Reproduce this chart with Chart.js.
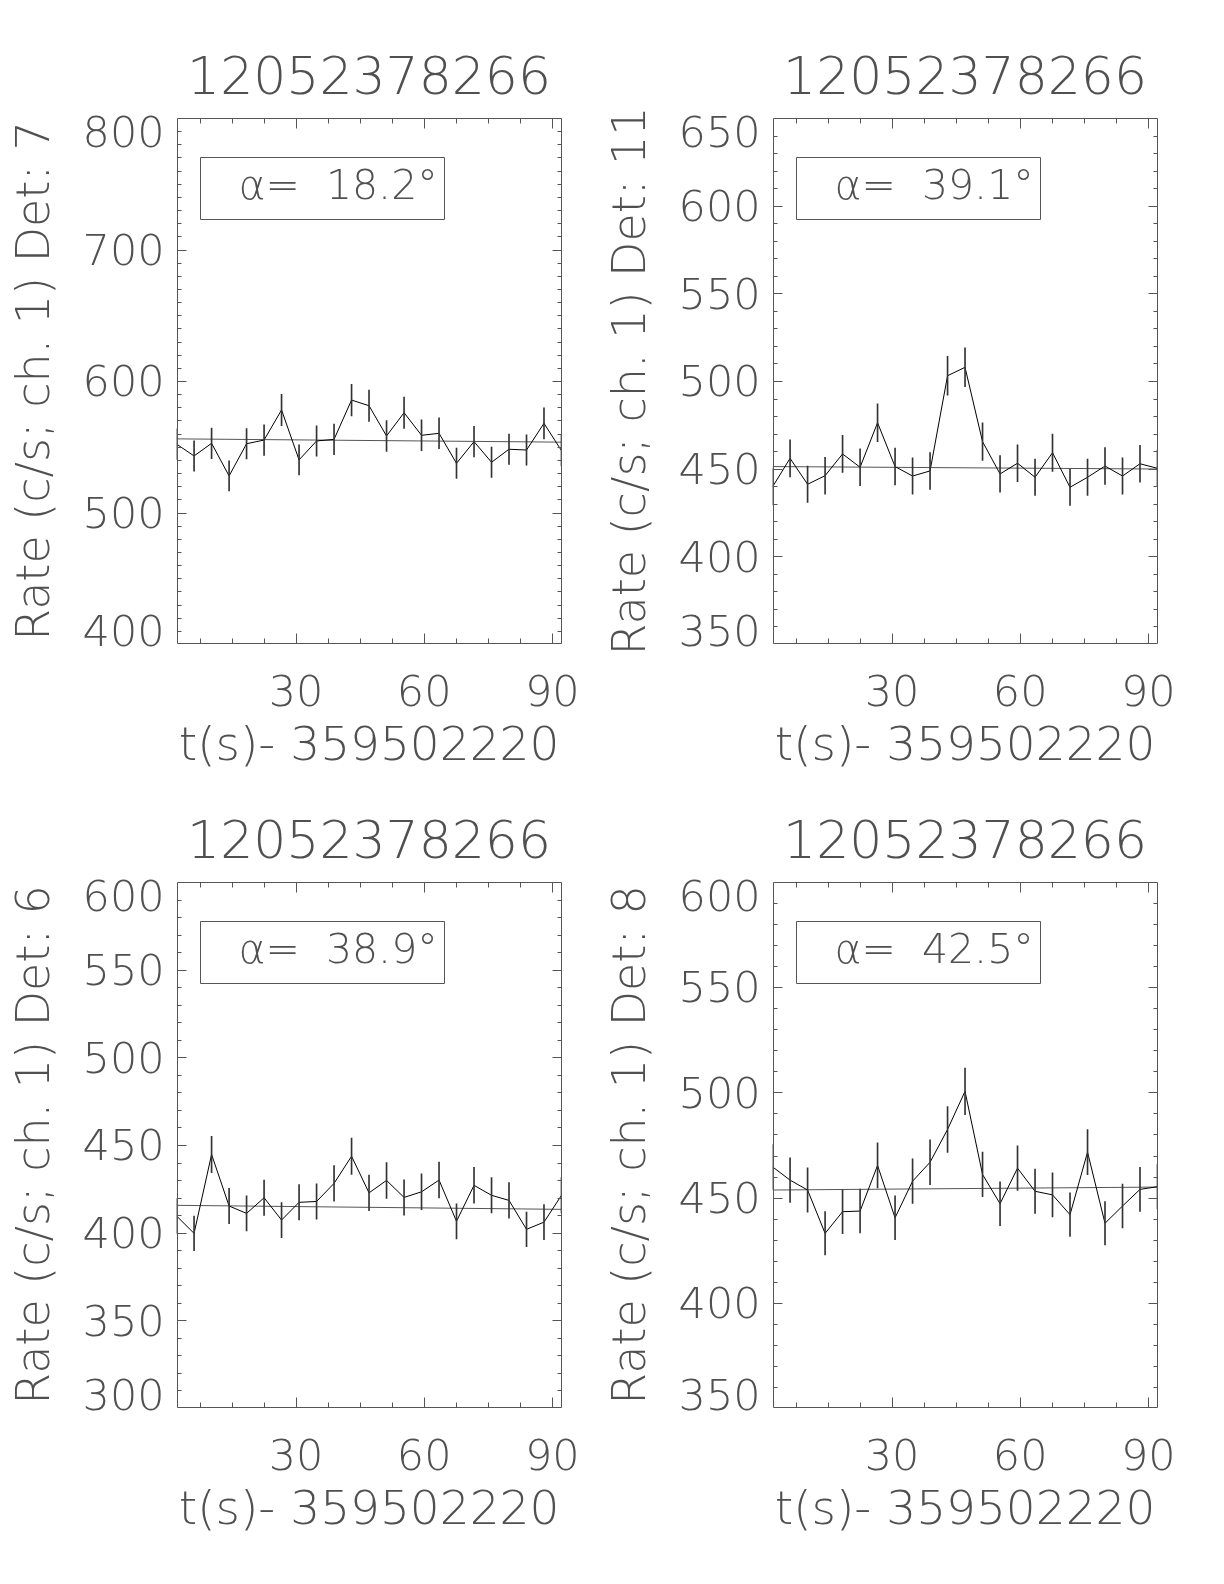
<!DOCTYPE html>
<html>
<head>
<meta charset="utf-8">
<script src="https://cdn.jsdelivr.net/npm/chart.js@4.4.1/dist/chart.umd.min.js"></script>
<style>
  body { margin: 0; background: #fff; }
  canvas { position: absolute; }
</style>
</head>
<body>
<canvas id="p7" width="596" height="792" style="left:0;top:0"></canvas>
<canvas id="p11" width="596" height="792" style="left:596px;top:0"></canvas>
<canvas id="p6" width="596" height="792" style="left:0;top:764px"></canvas>
<canvas id="p8" width="596" height="792" style="left:596px;top:764px"></canvas>
<script>
const FONT = "'DejaVu Sans', sans-serif";
const INK = '#505050';

// bin centres, s after 359502220
const times = [2.05, 6.14, 10.24, 14.34, 18.43, 22.53, 26.62, 30.72, 34.82, 38.91, 43.01, 47.10,
  51.20, 55.30, 59.39, 63.49, 67.58, 71.68, 75.78, 79.87, 83.97, 88.06, 92.16];

// Det 7
const rate7 = [552, 543, 552.6, 527.8, 552.3, 555.1, 578, 540, 554.4, 555.6, 585.5, 581.2,
  558.2, 575.9, 558.7, 560.2, 537.4, 553.9, 538.2, 548.1, 547.5, 567.8, 547];
const err7 = [11.6, 11.5, 11.6, 11.4, 11.6, 11.6, 11.9, 11.5, 11.6, 11.6, 12.0, 11.9,
  11.7, 11.9, 11.7, 11.7, 11.5, 11.6, 11.5, 11.6, 11.6, 11.8, 11.6];
const fit7 = [556, 553.5];

// Det 11
const rate11 = [439.7, 455.9, 441.1, 446, 458.4, 450.8, 476.2, 451.2, 445.8, 448.7, 503, 507.8,
  465.4, 447, 453.1, 445.1, 459.1, 439.4, 445.1, 451.5, 445.8, 452.8, 450.2];
const err11 = [10.4, 10.6, 10.4, 10.5, 10.6, 10.5, 10.8, 10.5, 10.4, 10.5, 11.1, 11.1,
  10.7, 10.4, 10.5, 10.4, 10.6, 10.4, 10.4, 10.5, 10.4, 10.5, 10.5];
const fit11 = [451.2, 449.8];

// Det 6
const rate6 = [409.5, 399.6, 444.6, 415.2, 411, 419.9, 407.2, 417.3, 417.8, 428.1, 443.6, 422.7,
  429.8, 420.1, 423.3, 430, 406.5, 427, 421.3, 418.4, 401.9, 406, 421.3];
const err6 = [10.0, 9.9, 10.4, 10.1, 10.0, 10.1, 10.0, 10.1, 10.1, 10.2, 10.4, 10.2,
  10.2, 10.1, 10.2, 10.2, 10.0, 10.2, 10.1, 10.1, 9.9, 10.0, 10.1];
const fit6 = [415.6, 413.3];

// Det 8
const rate8 = [464.6, 458.3, 453.6, 433, 443.3, 443.6, 465.3, 440.4, 457.8, 466.8, 482.4, 500.5,
  461, 447.1, 464, 453, 451.3, 441.9, 471.6, 437.8, 446, 453.9, 455.2];
const err8 = [10.6, 10.6, 10.5, 10.3, 10.4, 10.4, 10.7, 10.4, 10.6, 10.7, 10.9, 11.1,
  10.6, 10.4, 10.6, 10.5, 10.5, 10.4, 10.7, 10.3, 10.4, 10.5, 10.5];
const fit8 = [453.6, 455];

const xTicks = [30, 60, 90];

// IDL style frame: box, inward ticks on all sides, angle label
const idlAxes = {
  id: 'idlAxes',
  afterDraw(chart, args, opts) {
    const { ctx, chartArea: a } = chart;
    const x = chart.scales.x, y = chart.scales.y;
    const L = Math.round(a.left) + 0.5, R = Math.round(a.right) - 0.5;
    const T = Math.round(a.top) + 0.5, B = Math.round(a.bottom) - 0.5;
    ctx.save();
    ctx.strokeStyle = '#555';
    ctx.lineWidth = 1;
    ctx.beginPath();
    ctx.rect(L, T, R - L, B - T);
    for (let k = 1; k * 7.5 <= x.max; k++) {
      const px = Math.round(x.getPixelForValue(k * 7.5)) + 0.5;
      const len = k % 4 === 0 ? 10 : 5;
      ctx.moveTo(px, B); ctx.lineTo(px, B - len);
      ctx.moveTo(px, T); ctx.lineTo(px, T + len);
    }
    for (let v = y.min + 10; v < y.max; v += 10) {
      const py = Math.round(y.getPixelForValue(v)) + 0.5;
      const len = Math.abs(v % opts.step) < 1e-6 ? 9 : 4;
      ctx.moveTo(L, py); ctx.lineTo(L + len, py);
      ctx.moveTo(R, py); ctx.lineTo(R - len, py);
    }
    ctx.stroke();

    ctx.beginPath();
    ctx.rect(L + 23, T + 39, 244, 62);
    ctx.stroke();
    ctx.fillStyle = INK;
    ctx.font = '200 41px ' + FONT;
    ctx.textBaseline = 'middle';
    ctx.textAlign = 'left';
    ctx.fillText('\u03b1=  ' + opts.alpha + '\u00b0', L + 61, T + 70);
    ctx.restore();
  }
};

function makePanel(id, rates, errs, fit, yMin, yMax, yStep, det, alpha) {
  const last = times.length - 1;
  return new Chart(document.getElementById(id), {
    type: 'line',
    data: {
      datasets: [
        {
          type: 'bar',
          data: times.map((t, i) => ({ x: t, y: [rates[i] - errs[i], rates[i] + errs[i]] })),
          backgroundColor: '#333',
          borderWidth: 0,
          barThickness: 1
        },
        {
          data: times.map((t, i) => ({ x: t, y: rates[i] })),
          borderColor: '#000',
          borderWidth: 1,
          pointRadius: 0,
          tension: 0
        },
        {
          data: [{ x: times[0], y: fit[0] }, { x: times[last], y: fit[1] }],
          borderColor: '#555',
          borderWidth: 1,
          pointRadius: 0
        }
      ]
    },
    options: {
      responsive: false,
      animation: false,
      events: [],
      layout: { padding: { top: 30, right: 34.5, bottom: 16, left: 0 } },
      plugins: {
        legend: { display: false },
        tooltip: { enabled: false },
        title: {
          display: true,
          text: '12052378266',
          fullSize: false,
          color: INK,
          font: { family: FONT, size: 52, weight: 200 },
          padding: { top: 19, bottom: 6.6 }
        },
        idlAxes: { step: yStep, alpha: alpha }
      },
      scales: {
        x: {
          type: 'linear',
          min: times[0],
          max: times[last],
          offset: false,
          grid: { display: false },
          border: { display: false },
          afterBuildTicks: s => { s.ticks = xTicks.map(v => ({ value: v })); },
          ticks: {
            padding: 17,
            maxRotation: 0,
            autoSkip: false,
            color: INK,
            font: { family: FONT, size: 43, weight: 200 }
          },
          title: {
            display: true,
            text: 't(s)- 359502220',
            color: INK,
            font: { family: FONT, size: 47, weight: 200 },
            padding: { top: 0, bottom: 0 }
          },
          afterFit: s => { s.height = 132; s.paddingLeft = 0; s.paddingRight = 0; }
        },
        y: {
          min: yMin,
          max: yMax,
          grid: { display: false },
          border: { display: false },
          ticks: {
            stepSize: yStep,
            padding: 4,
            labelOffset: 4,
            color: INK,
            font: { family: FONT, size: 43, weight: 200, lineHeight: 0.63 },
            callback: v => v === yMax ? ['', String(v)] : v === yMin ? [String(v), ''] : String(v)
          },
          title: {
            display: true,
            text: 'Rate (c/s; ch. 1) Det: ' + det,
            color: INK,
            font: { family: FONT, size: 46, weight: 200 },
            padding: { top: 9, bottom: 0 }
          },
          afterFit: s => { s.width = 176.6; s.paddingTop = 0; s.paddingBottom = 0; }
        }
      }
    },
    plugins: [idlAxes]
  });
}

makePanel('p7', rate7, err7, fit7, 400, 800, 100, 7, '18.2');
makePanel('p11', rate11, err11, fit11, 350, 650, 50, 11, '39.1');
makePanel('p6', rate6, err6, fit6, 300, 600, 50, 6, '38.9');
makePanel('p8', rate8, err8, fit8, 350, 600, 50, 8, '42.5');
</script>
</body>
</html>
